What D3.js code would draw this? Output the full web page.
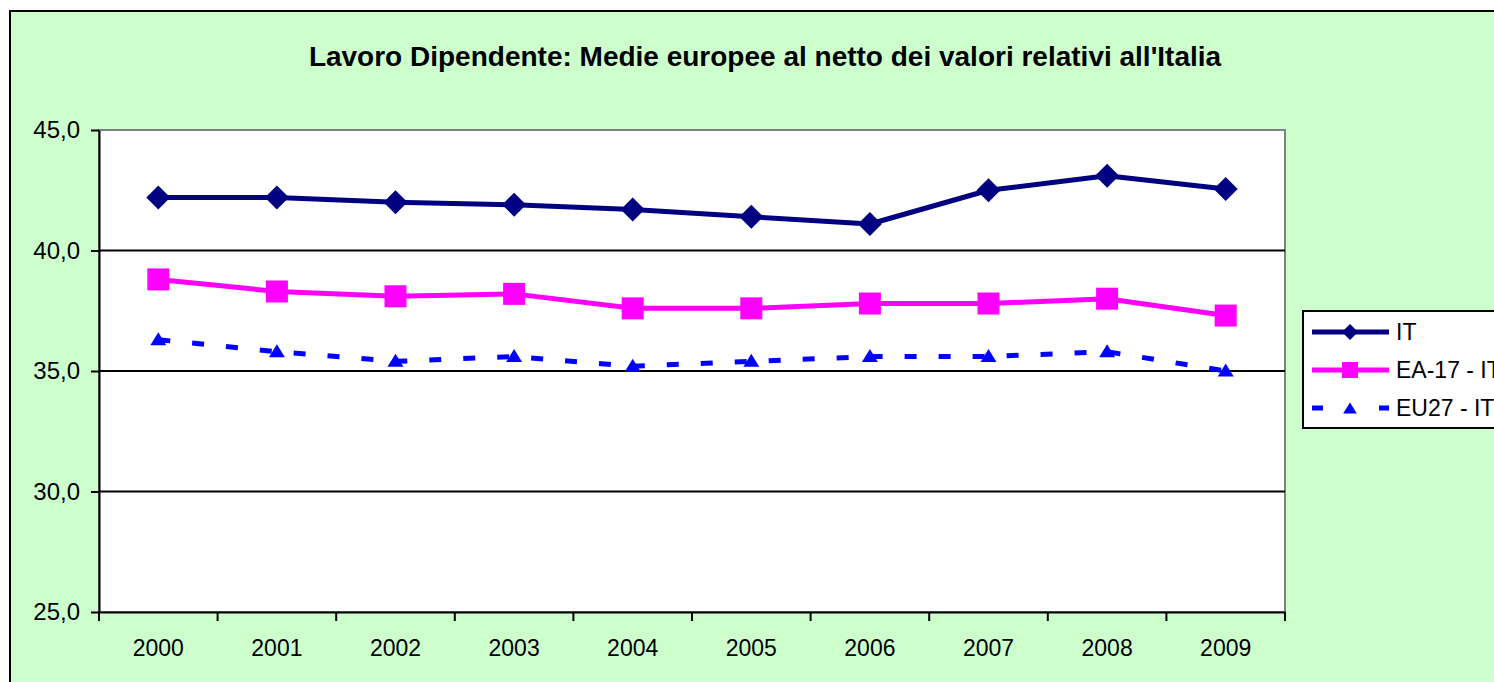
<!DOCTYPE html>
<html>
<head>
<meta charset="utf-8">
<script src="https://cdn.jsdelivr.net/npm/d3@7/dist/d3.min.js"></script>
<style>
  html, body { margin: 0; padding: 0; background: #fff; overflow: hidden; }
  svg { display: block; font-family: "Liberation Sans", Arial, sans-serif; }
</style>
</head>
<body>
<svg id="chart" width="1494" height="682"></svg>
<script>
const title = "Lavoro Dipendente: Medie europee al netto dei valori relativi all'Italia";
const years = ["2000","2001","2002","2003","2004","2005","2006","2007","2008","2009"];
const seriesNames = ["IT", "EA-17 - IT", "EU27 - IT"];
const itValues   = [42.2, 42.2, 42.0, 41.9, 41.7, 41.4, 41.1, 42.5, 43.1, 42.55];
const ea17Values = [38.8, 38.3, 38.1, 38.2, 37.6, 37.6, 37.8, 37.8, 38.0, 37.3];
const eu27Values = [36.3, 35.8, 35.4, 35.6, 35.2, 35.4, 35.6, 35.6, 35.8, 35.0];
const yTicks = [25, 30, 35, 40, 45];
const yDomain = [25, 45];

const svg = d3.select("#chart");
const W = 1494, H = 682;

// chart background + outer border
svg.append("rect").attr("x", 0).attr("y", 0).attr("width", W).attr("height", H).attr("fill", "#fff");
svg.append("rect").attr("x", 10).attr("y", 11).attr("width", W + 20).attr("height", H + 20)
  .attr("fill", "#CCFFCC").attr("stroke", "#000").attr("stroke-width", 2);

const plot = { left: 99, top: 130, right: 1285, bottom: 612 };
const x = d3.scaleBand().domain(years).range([plot.left, plot.right]).padding(0);
const y = d3.scaleLinear().domain(yDomain).range([plot.bottom, plot.top]);

// title
svg.append("text").attr("x", 765).attr("y", 66).attr("text-anchor", "middle")
  .attr("font-size", 28).attr("font-weight", "bold").attr("fill", "#000").text(title);

// plot area
svg.append("rect").attr("x", plot.left).attr("y", plot.top)
  .attr("width", plot.right - plot.left).attr("height", plot.bottom - plot.top)
  .attr("fill", "#fff").attr("stroke", "#808080").attr("stroke-width", 2);

// gridlines
svg.append("g").selectAll("line").data(yTicks.filter(d => d !== yDomain[0] && d !== yDomain[1]))
  .join("line")
  .attr("x1", plot.left).attr("x2", plot.right)
  .attr("y1", d => y(d)).attr("y2", d => y(d))
  .attr("stroke", "#000").attr("stroke-width", 2);

// y axis
const yAxis = d3.axisLeft(y).tickValues(yTicks).tickSize(8).tickSizeOuter(0).tickPadding(11)
  .tickFormat(d => d.toFixed(1).replace(".", ","));
const gy = svg.append("g").attr("transform", `translate(${plot.left},0)`).call(yAxis);
gy.select(".domain").attr("stroke", "#000").attr("stroke-width", 2);
gy.selectAll(".tick line").attr("stroke", "#000").attr("stroke-width", 2);
gy.selectAll(".tick text").attr("font-size", 24).attr("fill", "#000")
  .attr("font-family", "Liberation Sans, Arial, sans-serif");

// x axis (labels)
const xAxis = d3.axisBottom(x).tickSize(0).tickSizeOuter(0).tickPadding(28);
const gx = svg.append("g").attr("transform", `translate(0,${plot.bottom})`).call(xAxis);
gx.select(".domain").attr("stroke", "#000").attr("stroke-width", 2);
gx.selectAll(".tick text").attr("font-size", 23).attr("fill", "#000")
  .attr("font-family", "Liberation Sans, Arial, sans-serif");
// x axis boundary ticks
const bounds = years.map(d => x(d)).concat([x.range()[1]]);
gx.append("g").selectAll("line").data(bounds).join("line")
  .attr("x1", d => d).attr("x2", d => d).attr("y1", 0).attr("y2", 9)
  .attr("stroke", "#000").attr("stroke-width", 2);

const cx = d => x(d) + x.bandwidth() / 2;

const series = [
  { name: seriesNames[0], values: itValues, color: "#000080", dash: null, marker: "diamond" },
  { name: seriesNames[1], values: ea17Values, color: "#FF00FF", dash: null, marker: "square" },
  { name: seriesNames[2], values: eu27Values, color: "#0000FF", dash: "12,22", marker: "triangle" }
];

function markerPath(type, s) {
  if (type === "diamond") return d3.symbol(d3.symbolSquare, (s * s) / 2)();
  if (type === "square") return d3.symbol(d3.symbolSquare, s * s)();
  const w = s * 0.76, h = s * 0.62;
  return `M0,${-h / 2}L${w / 2},${h / 2}L${-w / 2},${h / 2}Z`;
}
function markerTransform(type, px, py) {
  return type === "diamond" ? `translate(${px},${py}) rotate(45)` : `translate(${px},${py})`;
}

const line = d3.line().x(d => cx(d.year)).y(d => y(d.value));
const markerSize = { diamond: 24, square: 22, triangle: 21 };

series.forEach(s => {
  const pts = years.map((yr, i) => ({ year: yr, value: s.values[i] }));
  svg.append("path").datum(pts).attr("d", line)
    .attr("fill", "none").attr("stroke", s.color).attr("stroke-width", 5)
    .attr("stroke-linejoin", "round")
    .attr("stroke-dasharray", s.dash);
  svg.append("g").selectAll("path").data(pts).join("path")
    .attr("d", markerPath(s.marker, markerSize[s.marker]))
    .attr("transform", d => markerTransform(s.marker, cx(d.year), y(d.value) - (s.marker === "triangle" ? 1 : 0)))
    .attr("fill", s.color);
});

// legend
const lg = svg.append("g");
lg.append("rect").attr("x", 1303).attr("y", 311).attr("width", 220).attr("height", 117)
  .attr("fill", "#fff").attr("stroke", "#000").attr("stroke-width", 2);
const legendY = [332, 370, 408];
series.forEach((s, i) => {
  const ly = legendY[i];
  if (s.dash) {
    [[1312, 1323], [1379, 1389]].forEach(([a, b]) => {
      lg.append("line").attr("x1", a).attr("x2", b).attr("y1", ly).attr("y2", ly)
        .attr("stroke", s.color).attr("stroke-width", 5);
    });
  } else {
    lg.append("line").attr("x1", 1312).attr("x2", 1389).attr("y1", ly).attr("y2", ly)
      .attr("stroke", s.color).attr("stroke-width", 5);
  }
  lg.append("path").attr("d", markerPath(s.marker, s.marker === "triangle" ? 18 : 16))
    .attr("transform", markerTransform(s.marker, 1350, ly)).attr("fill", s.color);
  lg.append("text").attr("x", 1396).attr("y", ly).attr("dy", "0.36em")
    .attr("font-size", 23).attr("fill", "#000").text(s.name);
});
</script>
</body>
</html>
